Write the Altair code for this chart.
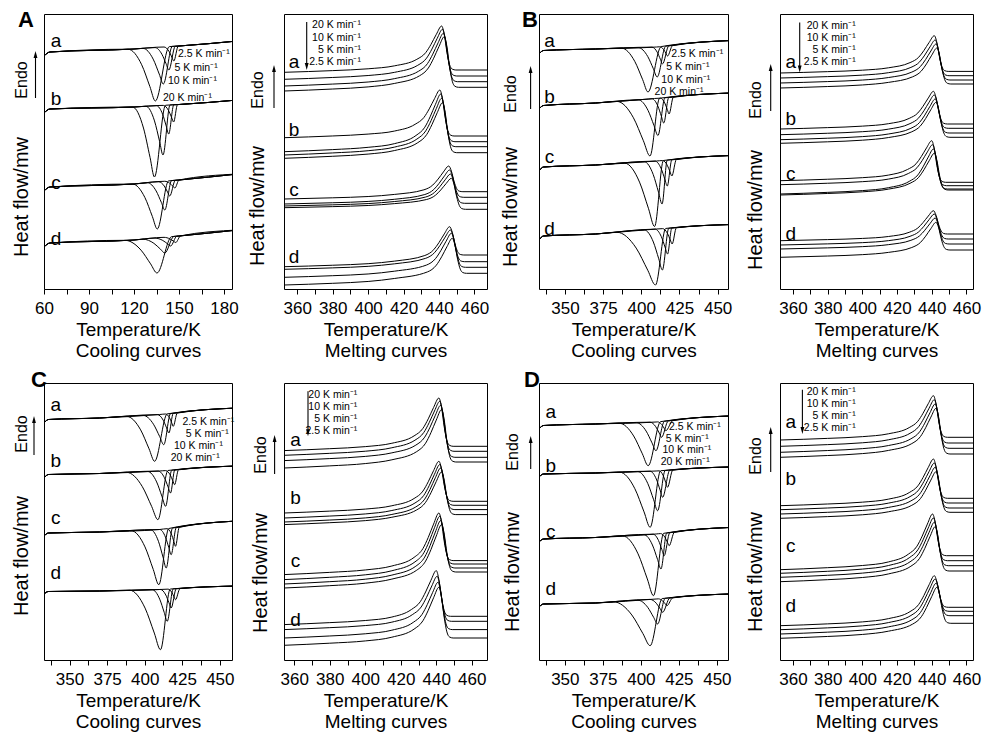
import altair as alt
import numpy as np
import pandas as pd

FONT = "Liberation Sans"
RATES = ["20", "10", "5", "2.5"]
SAMPLES = ["a", "b", "c", "d"]

# ---------------- Cooling curves ----------------
# baselines per sample: (T, depth below frame top); heat flow = -depth
# peaks per sample for 20, 10, 5, 2.5 K/min: [T_onset, T_min, depth_min, T_end]
COOL_A_BASE = [
    [(60, 42), (64, 38), (120, 35), (150, 32), (189, 27)],
    [(60, 99), (64, 95), (120, 93), (150, 90.5), (189, 86)],
    [(60, 177), (64, 173), (120, 170), (150, 166), (189, 160)],
    [(60, 233), (64, 229), (120, 226), (150, 222), (189, 216)],
]
COOL_A_PEAKS = [
    [[116, 134.2, 87, 143.5], [126, 139.5, 70, 145.5], [134, 143.2, 56, 147.5], [140, 146.5, 47, 149.5]],
    [[119, 133.6, 163, 141], [128, 139.3, 141, 144], [135, 143.1, 120, 146.5], [139.5, 146.4, 108, 149]],
    [[119, 135.5, 215, 143], [129, 140.5, 196, 145], [136.5, 143.8, 182, 147.5], [140.5, 147.2, 174, 150]],
    [[114, 135.3, 259, 145], [126, 140.5, 239, 146.5], [134, 144.4, 232, 148.5], [140, 147.8, 228.5, 151]],
]
COOL_B_BASE = [
    [(333, 40), (336, 36.5), (370, 35), (410, 33), (459, 26.5)],
    [(333, 95), (336, 91.5), (370, 89), (405, 85), (459, 79)],
    [(333, 157), (336, 153), (370, 151), (410, 147), (459, 141.5)],
    [(333, 226), (336, 222), (370, 220), (410, 215), (459, 210.5)],
]
COOL_B_PEAKS = [
    [[387, 404.4, 78, 413], [398, 410.4, 63, 416], [407, 413.9, 50, 418], [412, 417.2, 42, 420.5]],
    [[384, 405.7, 142, 412], [398, 410.9, 121.5, 415.5], [407, 414.7, 109, 418], [412.5, 418.2, 100, 421]],
    [[389, 408.7, 212.5, 414.5], [402, 413.6, 190, 417], [409, 417, 172, 420], [414, 420, 162, 423]],
    [[384, 409.3, 271, 416], [402, 413.8, 256, 418], [409, 417.2, 240, 420], [414, 420.2, 230, 423]],
]
COOL_C_BASE = [
    [(333, 40), (336, 36.5), (370, 35), (410, 31.5), (462, 25)],
    [(333, 95), (336, 91.5), (370, 90.5), (410, 88), (462, 83)],
    [(333, 153), (336, 150), (370, 149), (410, 146.5), (462, 138)],
    [(333, 211), (336, 208.5), (370, 208), (410, 206.5), (462, 203)],
]
COOL_C_PEAKS = [
    [[388, 406.6, 78.3, 415], [399, 412.7, 61.7, 417.2], [408.5, 416.1, 50, 419], [414, 419, 43.3, 421.7]],
    [[388, 408.8, 136.7, 415.5], [402, 413.9, 123.3, 418], [409, 417.2, 110, 420], [414, 419.9, 101.7, 422.5]],
    [[391, 409.4, 201.7, 416], [404, 414.3, 185, 418.5], [410, 417.6, 171.7, 421], [415, 420.5, 163.3, 423]],
    [[390, 410.5, 266.7, 417], [405, 415, 238.3, 419], [410.5, 417.6, 225, 421], [415.5, 420.5, 216.7, 423.5]],
]
COOL_D_BASE = [
    [(333, 46), (336, 42.5), (370, 41), (410, 39), (458, 33)],
    [(333, 94), (336, 91), (370, 90), (410, 88), (458, 84)],
    [(333, 159), (336, 156), (370, 154.5), (410, 151), (458, 144.5)],
    [(333, 224), (336, 221), (370, 220), (410, 216), (458, 211)],
]
COOL_D_PEAKS = [
    [[385.7, 404.8, 82.7, 413], [397, 409.9, 67.7, 415.5], [406, 413.6, 54.3, 418], [411, 416.4, 47.7, 421]],
    [[386, 406.1, 144.3, 413], [398, 411, 127.7, 416], [406, 414.3, 114.3, 419], [412, 417.5, 104.3, 421]],
    [[388, 408.3, 212.7, 415], [402, 413.2, 186, 417], [408, 415.3, 172.7, 419], [413, 418.6, 162.7, 422]],
    [[382, 406.1, 262.7, 414], [398, 411, 241, 416], [406, 414.3, 229.3, 419], [411.5, 417.1, 222.7, 421]],
]

# ---------------- Melting curves ----------------
# per curve (20, 10, 5, 2.5 K/min): [depth at left, depth at knee, T_peak, depth at peak, depth after melt]
MELT_A = [
    [[58.3, 45.3, 441.5, 12, 56], [65.3, 51.3, 442, 15.3, 62], [72, 57.2, 442.5, 19.3, 67.7], [77, 61.8, 443, 22.7, 73.3]],
    [[123.7, 110.3, 440.5, 76, 122], [137.7, 121.5, 441, 80, 127.7], [141, 125.1, 441.5, 84.3, 132.7], [144.3, 128.7, 442, 88.7, 138.7]],
    [[185, 175.8, 445.5, 152, 177.7], [190, 180.5, 446, 156, 183.3], [192, 183, 446.5, 160, 189.3], [193.7, 185.5, 447, 164.3, 195.3]],
    [[252.7, 241.5, 446, 212.7, 241], [255.3, 244.3, 446.5, 216, 247.7], [263.3, 251, 447, 219.3, 253.3], [271, 257.9, 447.5, 224.3, 259.3]],
]
MELT_B = [
    [[59, 48.6, 441.5, 21.7, 57.4], [64, 53.4, 442, 26, 61.7], [69, 58.1, 442.5, 30, 66], [74, 62.8, 443, 34, 70]],
    [[115, 104.4, 441, 77.3, 110], [120.7, 109.6, 441.5, 81, 114.3], [125.7, 114.3, 442, 85, 119], [129.3, 117.8, 442.5, 88.3, 123.3]],
    [[166.7, 155.5, 440, 126.7, 168.3], [170.7, 159.5, 440.5, 130.7, 171.7], [180, 167.4, 441, 135, 175], [181, 169.3, 441.5, 139.3, 176]],
    [[226.7, 218.3, 441, 196.7, 220], [231, 222.3, 441.5, 200, 225], [235, 226.3, 442, 204, 230], [243.3, 233.5, 442.5, 208.3, 236]],
]
MELT_C = [
    [[67.6, 52.9, 441.5, 15, 63.3], [72.3, 57.2, 442, 18.3, 68.3], [77.6, 62.1, 442.5, 22.3, 74.3], [85, 68.6, 443, 26.6, 79]],
    [[130, 115.5, 441.5, 78.3, 118.3], [135, 120, 442, 81.6, 122.3], [139, 123.9, 442.5, 85, 126.6], [141.6, 126.9, 443, 89, 131.6]],
    [[191.6, 174.4, 441.5, 130, 177.6], [196.6, 178.9, 442, 133.3, 181], [201, 183.2, 442.5, 137.6, 185], [205, 187.2, 443, 141.6, 189]],
    [[241.6, 226.5, 440, 187.6, 233.3], [246.6, 231.7, 440.5, 193.3, 238.3], [255, 239.4, 441, 199.3, 246.6], [262.3, 246.1, 441.5, 204.3, 255]],
]
MELT_D = [
    [[57, 44.6, 441, 12.7, 54.3], [63.3, 50.3, 441.5, 16.7, 60], [69.3, 55.8, 442, 21, 65.3], [74.3, 60.6, 442.5, 25.3, 71]],
    [[122.7, 109.6, 441, 76, 115.3], [126.7, 113.6, 441.5, 80, 120], [131, 117.9, 442, 84.3, 125], [135.3, 122.3, 442.5, 88.7, 129.3]],
    [[186.7, 171.2, 440.5, 131, 172.7], [190.3, 174.8, 441, 135, 177.7], [194.3, 178.8, 441.5, 139.3, 182.7], [198.7, 183.2, 442, 143.7, 188]],
    [[242.7, 228.6, 441.5, 192.7, 224.3], [246.7, 232.5, 442, 196, 228.3], [251, 236.8, 442.5, 200.3, 232.7], [255.3, 241.1, 443, 204.3, 240.3]],
]

# peak shape templates
COOL_LEFT_PROFILE = [(0.5, 0.3), (0.8, 0.72)]
MELT_PRE_PROFILE = [(380, 0.13), (400, 0.27), (415, 0.5)]
MELT_KNEE = -14
MELT_RISE_PROFILE = [(-9, 0.2), (-6, 0.45), (-3, 0.75)]
MELT_FALL_PROFILE = [(1.5, 0.2), (3, 0.6), (4.5, 0.88), (6, 0.98), (8, 1.0)]

COOL_TICKS_A = [60 + 15 * i for i in range(9)]
COOL_TICKS = [337.5 + 12.5 * i for i in range(10)]
MELT_TICKS = [360 + 10 * i for i in range(11)]


def cooling_df(bases, peaks):
    rows = []
    for si, (base, plist) in enumerate(zip(bases, peaks)):
        bt = [p[0] for p in base]
        br = [p[1] for p in base]
        for ri, (t_on, t_min, r_min, t_end) in enumerate(plist):
            r_on = float(np.interp(t_on, bt, br))
            r_end = float(np.interp(t_end, bt, br))
            pts = [(t, r) for t, r in base if t < t_on - 0.3]
            pts.append((t_on, r_on))
            for ft, fr in COOL_LEFT_PROFILE:
                pts.append((t_on + ft * (t_min - t_on), r_on + fr * (r_min - r_on)))
            pts.append((t_min, r_min))
            pts.append((t_end, r_end))
            pts += [(t, r) for t, r in base if t > t_end + 0.3]
            for k, (t, r) in enumerate(pts):
                rows.append({"T": t, "hf": -r, "curve": f"{SAMPLES[si]}-{RATES[ri]}", "k": k})
    return pd.DataFrame(rows)


def melting_df(curves, dom):
    rows = []
    for si, group in enumerate(curves):
        for ri, (rL, rK, tp, rP, rPost) in enumerate(group):
            pts = [(dom[0], rL)]
            for t, f in MELT_PRE_PROFILE:
                if dom[0] + 1 < t < tp + MELT_KNEE - 1:
                    pts.append((t, rL + f * (rK - rL)))
            pts.append((tp + MELT_KNEE, rK))
            for dt, f in MELT_RISE_PROFILE:
                pts.append((tp + dt, rK + f * (rP - rK)))
            pts.append((tp, rP))
            for dt, f in MELT_FALL_PROFILE:
                pts.append((tp + dt, rP + f * (rPost - rP)))
            pts.append((dom[1], rPost))
            for k, (t, r) in enumerate(pts):
                rows.append({"T": t, "hf": -r, "curve": f"{SAMPLES[si]}-{RATES[ri]}", "k": k})
    return pd.DataFrame(rows)


DUMMY = pd.DataFrame({"k": [0]})
UP = "M0,-1L0.55,1L-0.55,1Z"
DOWN = "M0,1L0.55,-1L-0.55,-1Z"


def txt(s, x, y, size, align="center", angle=0, weight="normal"):
    kw = dict(text=s, fontSize=size, font=FONT, align=align, baseline="middle",
              color="black", fontWeight=weight)
    if angle:
        kw["angle"] = angle
    return alt.Chart(DUMMY).mark_text(**kw).encode(x=alt.value(x), y=alt.value(y))


def arrow(x, y_tip, y_tail, up=True):
    head = 7
    if up:
        hy = y_tip + head / 2
        y1, y2 = y_tip + head - 1, y_tail
    else:
        hy = y_tip - head / 2
        y1, y2 = y_tail, y_tip - head + 1
    rule = alt.Chart(DUMMY).mark_rule(color="black", strokeWidth=1.1).encode(
        x=alt.value(x), y=alt.value(y1), y2=alt.value(y2))
    pt = alt.Chart(DUMMY).mark_point(shape=UP if up else DOWN, filled=True, size=49,
                                     color="black", opacity=1, strokeWidth=0).encode(
        x=alt.value(x), y=alt.value(hy))
    return [rule, pt]


ANN = {
    "A_cool": dict(letters=[(12, 27), (12, 85), (12, 169), (12, 225)], hf=(-22, 183), endo=(-22, 66),
                   arrow=(-8.5, 37, 84), tag=("A", -18, 6),
                   rates=[(134, 40), (130.6, 53.7), (124, 67), (119, 83.7)]),
    "A_melt": dict(letters=[(10, 48), (10, 116), (10, 176), (10, 243)], hf=(-26, 192), endo=(-26, 76),
                   arrow=(-10, 51, 94), legend=(77, [11, 23.5, 35.5, 47.7], (22.7, 56, 8))),
    "B_cool": dict(letters=[(10.6, 26.7), (10.6, 83.3), (10.6, 143.3), (10.6, 215)], hf=(-28, 193),
                   endo=(-28, 80), arrow=(-8.4, 52, 95), tag=("B", -9, 6),
                   rates=[(132.3, 40), (127.3, 53), (122.3, 65.5), (115.6, 78.3)]),
    "B_melt": dict(letters=[(10.7, 48.4), (10.7, 105), (10.7, 160), (10.7, 220)], hf=(-24, 196),
                   endo=(-24, 86), arrow=(-9.3, 50, 97), legend=(75.7, [11.5, 23.5, 35.5, 47.7], (19.7, 58.4, 8.4))),
    "C_cool": dict(letters=[(11.7, 21.6), (11.7, 78.3), (11.7, 135), (11.7, 190)], hf=(-22, 173),
                   endo=(-22, 51), arrow=(-10, 33, 72), tag=("C", -5, -3),
                   rates=[(138.4, 39), (141.7, 51), (130, 63), (126.7, 75)]),
    "C_melt": dict(letters=[(11.6, 56.6), (11.6, 115), (11.6, 178.3), (11.6, 236.6)], hf=(-23, 190),
                   endo=(-23, 72), arrow=(-9.4, 52, 91), legend=(73.3, [11.5, 23.5, 35.5, 48], (24, 53.3, 8.3))),
    "D_cool": dict(letters=[(11.7, 29.3), (11.7, 82.7), (11.7, 149.3), (11.7, 206)], hf=(-26, 189),
                   endo=(-26, 69), arrow=(-8.3, 53, 86), tag=("D", -7, -3),
                   rates=[(130, 44), (126.7, 55.5), (123.4, 67), (121.7, 78.5)]),
    "D_melt": dict(letters=[(10.7, 39.3), (10.7, 96), (10.7, 162.7), (10.7, 222.7)], hf=(-24, 189),
                   endo=(-24, 73), arrow=(-9.3, 44, 89), legend=(75.7, [9.3, 21.3, 33.3, 45.3], (22.4, 51, 6.7))),
}


def panel(name, df, dom, ticks, major, H, W, title2):
    ann = ANN[name]
    x = alt.X("T:Q", scale=alt.Scale(domain=dom, nice=False, zero=False),
              axis=alt.Axis(values=ticks, format="d",
                            labelExpr=f"datum.value % {major} == 0 ? datum.label : ''",
                            title=["Temperature/K", title2]))
    y = alt.Y("hf:Q", scale=alt.Scale(domain=[-H, 0], nice=False, zero=False), axis=None)
    lines = alt.Chart(df).mark_line(interpolate="monotone", color="black", strokeWidth=1,
                                    clip=True).encode(x=x, y=y, detail="curve:N", order="k:Q")
    layers = [lines]
    for s, (lx, ly) in zip(SAMPLES, ann["letters"]):
        layers.append(txt(s, lx, ly, 19))
    hx, hy = ann["hf"]
    layers.append(txt("Heat flow/mw", hx, hy, 20, angle=270))
    ex, ey = ann["endo"]
    layers.append(txt("Endo", ex, ey, 16, angle=270))
    ax, at, ab = ann["arrow"]
    layers += arrow(ax, at, ab, up=True)
    if "tag" in ann:
        t, tx, ty = ann["tag"]
        layers.append(txt(t, tx, ty, 22, weight="bold"))
    if "rates" in ann:
        for r, (rx, ry) in zip(["2.5", "5", "10", "20"], ann["rates"]):
            layers.append(txt(f"{r} K min\u207b\u00b9", rx, ry, 10.5, align="left"))
    if "legend" in ann:
        right, ys, (lax, ltip, ltail) = ann["legend"]
        for r, ly in zip(RATES, ys):
            layers.append(txt(f"{r} K min\u207b\u00b9", right, ly, 10.5, align="right"))
        layers += arrow(lax, ltip, ltail, up=False)
    return alt.layer(*layers).properties(width=W, height=H)


DOM = {
    "A_cool": [60, 185.3], "A_melt": [352.5, 467.1], "B_cool": [333, 456.8], "B_melt": [352.5, 463.8],
    "C_cool": [333, 458.1], "C_melt": [354.2, 468.6], "D_cool": [333, 457.3], "D_melt": [352.5, 463.8],
}

panels = [
    panel("A_cool", cooling_df(COOL_A_BASE, COOL_A_PEAKS), DOM["A_cool"], COOL_TICKS_A, 30, 275, 188, "Cooling curves"),
    panel("A_melt", melting_df(MELT_A, DOM["A_melt"]), DOM["A_melt"], MELT_TICKS, 20, 275, 203, "Melting curves"),
    panel("B_cool", cooling_df(COOL_B_BASE, COOL_B_PEAKS), DOM["B_cool"], COOL_TICKS, 25, 275, 189, "Cooling curves"),
    panel("B_melt", melting_df(MELT_B, DOM["B_melt"]), DOM["B_melt"], MELT_TICKS, 20, 275, 193, "Melting curves"),
    panel("C_cool", cooling_df(COOL_C_BASE, COOL_C_PEAKS), DOM["C_cool"], COOL_TICKS, 25, 277, 188, "Cooling curves"),
    panel("C_melt", melting_df(MELT_C, DOM["C_melt"]), DOM["C_melt"], MELT_TICKS, 20, 277, 203, "Melting curves"),
    panel("D_cool", cooling_df(COOL_D_BASE, COOL_D_PEAKS), DOM["D_cool"], COOL_TICKS, 25, 277, 189, "Cooling curves"),
    panel("D_melt", melting_df(MELT_D, DOM["D_melt"]), DOM["D_melt"], MELT_TICKS, 20, 277, 193, "Melting curves"),
]

chart = alt.concat(*panels, columns=4, spacing={"row": 94, "column": 52}, bounds="flush",
                   align="each").properties(
    padding={"left": 3, "top": 0, "right": 2, "bottom": 0}
).configure_view(stroke="black", strokeWidth=1).configure_axis(
    domain=False, grid=False, tickColor="black", tickSize=5, tickWidth=1,
    labelFont=FONT, labelFontSize=17, labelColor="black", labelPadding=6,
    labelOverlap=False, labelFlush=False,
    titleFont=FONT, titleFontSize=19, titleFontWeight="normal", titleColor="black",
    titlePadding=4, titleLineHeight=21,
)

chart.save("out.html", embed_options={"renderer": "svg", "actions": False})
